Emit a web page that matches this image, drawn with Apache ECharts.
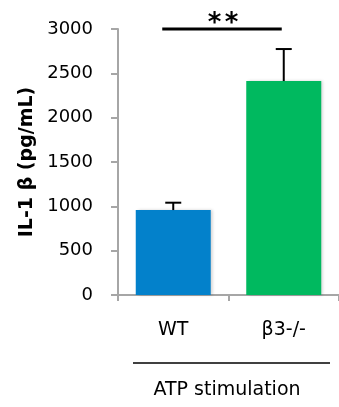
<!DOCTYPE html>
<html><head><meta charset="utf-8">
<script src="https://cdn.jsdelivr.net/npm/echarts@6/dist/echarts.min.js"></script>
<style>html,body{margin:0;padding:0;background:#fff}#c{width:339px;height:407px}</style>
</head><body><div id="c"></div>
<script>
const categories = ['WT', 'β3-/-'];
const means = [958, 2413];
const errors = [83, 361];
const barColors = ['#0381cb', '#00b95f'];
const yTicks = [0, 500, 1000, 1500, 2000, 2500, 3000];
const yTitle = 'IL-1 β (pg/mL)';
const groupTitle = 'ATP stimulation';
const sigMarks = ['*', '*'];

const FONT = 'DejaVu Sans';
const chart = echarts.init(document.getElementById('c'), null, {renderer: 'canvas'});
const option = {
  animation: false,
  grid: {left: 118, right: 0, top: 29, bottom: 112},
  xAxis: {
    type: 'category', data: categories,
    axisLine: {lineStyle: {color: '#a6a6a6', width: 2}},
    axisTick: {show: true, length: 6, lineStyle: {color: '#a6a6a6', width: 2}},
    axisLabel: {color: '#000', fontFamily: FONT, fontSize: 19, margin: 26}
  },
  yAxis: {
    type: 'value', min: yTicks[0], max: yTicks[yTicks.length - 1], interval: yTicks[1] - yTicks[0],
    name: yTitle, nameLocation: 'middle', nameRotate: 90, nameGap: 81,
    nameTextStyle: {color: '#000', fontFamily: FONT, fontSize: 19, fontWeight: 'bold'},
    axisLine: {show: true, lineStyle: {color: '#a6a6a6', width: 2}},
    axisTick: {show: true, length: 7, lineStyle: {color: '#a6a6a6', width: 2}},
    splitLine: {show: false},
    axisLabel: {color: '#000', fontFamily: FONT, fontSize: 18, margin: 25, formatter: v => String(v)}
  },
  series: [
    {
      type: 'bar', barWidth: 75,
      data: means.map((v, i) => ({value: v, itemStyle: {color: barColors[i]}})),
      itemStyle: {shadowColor: 'rgba(0,0,0,0.18)', shadowBlur: 3, shadowOffsetX: 2},
      z: 2
    },
    {
      type: 'custom', z: 3,
      data: means.map((v, i) => [i, v, v + errors[i]]),
      renderItem: function (params, api) {
        const base = api.coord([api.value(0), api.value(1)]);
        const top = api.coord([api.value(0), api.value(2)]);
        const cap = 8;
        const st = {stroke: '#000', lineWidth: 2};
        return {type: 'group', children: [
          {type: 'line', shape: {x1: base[0], y1: base[1], x2: top[0], y2: top[1]}, style: st},
          {type: 'line', shape: {x1: top[0] - cap, y1: top[1], x2: top[0] + cap, y2: top[1]}, style: st}
        ]};
      }
    }
  ]
};
chart.setOption(option);

const p0 = chart.convertToPixel({xAxisIndex: 0, yAxisIndex: 0}, [0, yTicks[yTicks.length - 1]]);
const p1 = chart.convertToPixel({xAxisIndex: 0, yAxisIndex: 0}, [1, yTicks[yTicks.length - 1]]);
const midX = (p0[0] + p1[0]) / 2 - 6;
chart.setOption({
  graphic: [
    {type: 'line', shape: {x1: p0[0] - 11, y1: p0[1], x2: p1[0] - 2, y2: p1[1]}, style: {stroke: '#000', lineWidth: 3}},
    {type: 'text', x: midX - 8, y: p0[1] - 5, style: {text: sigMarks[0], fill: '#000', font: 'bold 26px ' + FONT, textAlign: 'center', textVerticalAlign: 'middle'}},
    {type: 'text', x: midX + 9, y: p0[1] - 5, style: {text: sigMarks[1], fill: '#000', font: 'bold 26px ' + FONT, textAlign: 'center', textVerticalAlign: 'middle'}},
    {type: 'line', shape: {x1: 133, y1: 363, x2: 330, y2: 363}, style: {stroke: '#000', lineWidth: 1.5}},
    {type: 'text', x: 227, y: 390, style: {text: groupTitle, fill: '#000', font: '19px ' + FONT, textAlign: 'center', textVerticalAlign: 'middle'}}
  ]
});
</script></body></html>
